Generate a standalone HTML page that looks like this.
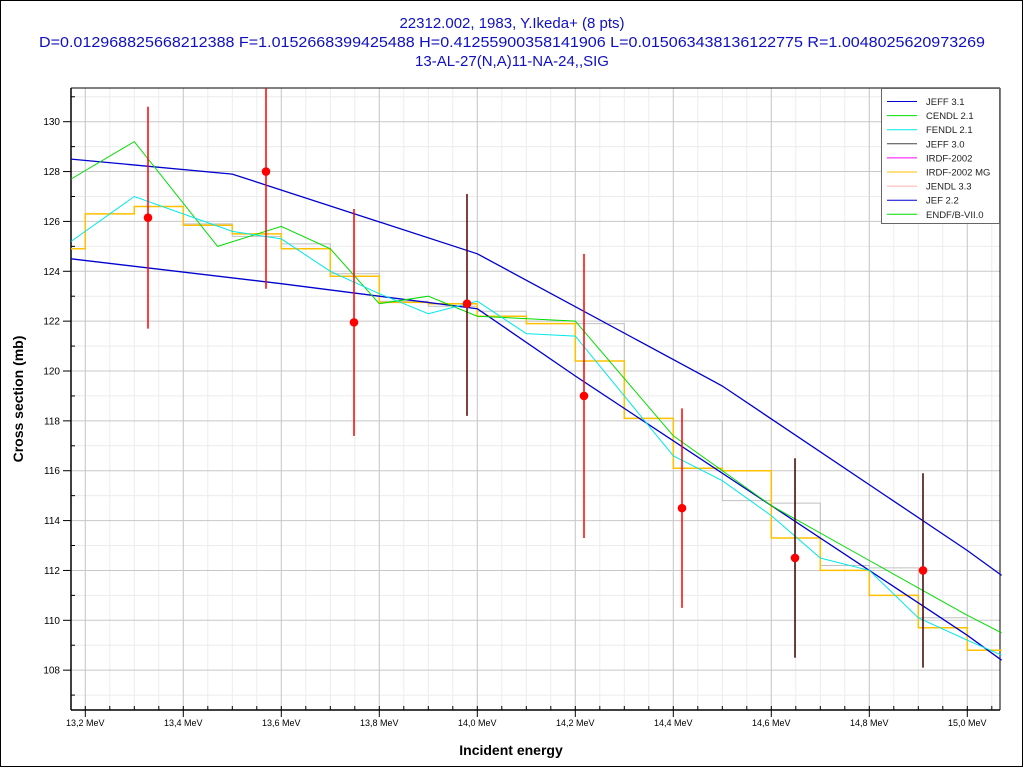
<!DOCTYPE html>
<html><head><meta charset="utf-8"><style>
html,body{margin:0;padding:0;background:#fff}
svg{display:block}
</style></head><body>
<svg id="s" width="1024" height="768" xmlns="http://www.w3.org/2000/svg" font-family="Liberation Sans, Arial, sans-serif">
<rect x="0.5" y="0.5" width="1022" height="766" fill="#fff" stroke="#000"/>
<text x="512" y="28" text-anchor="middle" font-size="15" fill="#1010c0">22312.002, 1983, Y.Ikeda+ (8 pts)</text>
<text x="512" y="47" text-anchor="middle" font-size="15" fill="#1010c0" textLength="946" lengthAdjust="spacingAndGlyphs">D=0.012968825668212388 F=1.0152668399425488 H=0.41255900358141906 L=0.015063438136122775 R=1.0048025620973269</text>
<text x="512" y="66" text-anchor="middle" font-size="15" fill="#1010c0">13-AL-27(N,A)11-NA-24,,SIG</text>
<text x="511" y="755" text-anchor="middle" font-size="14" font-weight="bold">Incident energy</text>
<text transform="translate(23,399) rotate(-90)" text-anchor="middle" font-size="14" font-weight="bold">Cross section (mb)</text>
<g id="g"></g>
</svg>
<script>
var L=71,R=1000,T=88,B=710;
function X(e){return 85.3+(e-13.2)*490}
function Y(v){return 121.7+(130-v)*24.93}
var h='';
for(var e=13.15;e<15.1;e+=0.05){var x=X(e);if(x>L&&x<R)h+='<line x1="'+x+'" y1="'+T+'" x2="'+x+'" y2="'+B+'" stroke="#ececec"/>';}
for(var v=106;v<=131;v++){var y=Y(v);if(y>T&&y<B)h+='<line x1="'+L+'" y1="'+y+'" x2="'+R+'" y2="'+y+'" stroke="'+(v%2==0?'#c8c8c8':'#ececec')+'"/>';}
for(var i=0;i<=9;i++){var x=X(13.2+i*0.2);h+='<line x1="'+x+'" y1="'+T+'" x2="'+x+'" y2="'+B+'" stroke="#c8c8c8"/>';}
h+='<line x1="'+L+'" y1="'+T+'" x2="'+L+'" y2="'+B+'" stroke="#000" stroke-width="1.5"/>';
h+='<line x1="'+L+'" y1="'+B+'" x2="'+R+'" y2="'+B+'" stroke="#000" stroke-width="1.5"/>';
h+='<line x1="'+R+'" y1="'+T+'" x2="'+R+'" y2="'+B+'" stroke="#000"/>';
h+='<line x1="'+L+'" y1="'+T+'" x2="'+R+'" y2="'+T+'" stroke="#000"/>';
for(var v=107;v<=131;v++){var y=Y(v);var big=v%2==0;h+='<line x1="'+(L-(big?8:0))+'" y1="'+y+'" x2="'+(L+(big?0:4))+'" y2="'+y+'" stroke="#000"/>';if(big)h+='<text x="'+(L-11)+'" y="'+(y+3.5)+'" text-anchor="end" font-size="10">'+v+'</text>';}
for(var e=13.2;e<15.08;e+=0.05){var x=X(e);var k=Math.round((e-13.2)/0.05);var big=k%4==0;h+='<line x1="'+x+'" y1="'+(B-4)+'" x2="'+x+'" y2="'+(B+(big?7:0))+'" stroke="#000"/>';if(big)h+='<text x="'+x+'" y="'+(B+16)+'" text-anchor="middle" font-size="9">'+(13.2+k*0.05).toFixed(1).replace('.',',')+' MeV</text>';}
function pl(pts,c,w){var s='';pts.forEach(function(p){s+=X(p[0]).toFixed(1)+','+Y(p[1]).toFixed(1)+' '});h+='<polyline points="'+s+'" fill="none" stroke="'+c+'" stroke-width="'+(w||1)+'"/>';}
function step(st,c,w){var pts=[];var xs=[13.171,13.2,13.3,13.4,13.5,13.6,13.7,13.8,13.9,14.0,14.1,14.2,14.3,14.4,14.5,14.6,14.7,14.8,14.9,15.0,15.07];for(var i=0;i<st.length;i++){pts.push([xs[i],st[i]]);pts.push([xs[i+1],st[i]]);}pl(pts,c,w);}
var E0=13.171,E1=15.07;
step([124.9,126.3,126.6,125.9,125.4,125.1,123.9,122.8,122.6,122.4,122.0,121.9,118.1,118.0,114.8,114.7,112.2,112.1,110.1,108.8],'#c0c0c0');
step([124.9,126.3,126.6,125.85,125.5,124.9,123.8,122.75,122.7,122.2,121.9,120.4,118.1,116.1,116.0,113.3,112.0,111.0,109.7,108.8],'#ffc000',1.5);
pl([[E0,128.5],[13.5,127.9],[14.0,124.7],[14.5,119.4],[15.0,112.8],[E1,111.8]],'#0000d0',1.3);
pl([[E0,124.5],[13.6,123.5],[14.0,122.5],[14.2,119.8],[14.4,117.2],[14.6,114.6],[14.8,112.0],[15.0,109.4],[E1,108.4]],'#0000d0',1.3);
pl([[E0,127.7],[13.3,129.2],[13.47,125.0],[13.6,125.8],[13.7,124.9],[13.8,122.7],[13.9,123.0],[14.0,122.2],[14.2,122.0],[14.4,117.4],[14.6,114.6],[14.8,112.4],[15.0,110.2],[E1,109.5]],'#00dd00');
pl([[E0,125.2],[13.3,127.0],[13.5,125.6],[13.6,125.3],[13.7,124.0],[13.8,123.1],[13.9,122.3],[14.0,122.8],[14.1,121.5],[14.2,121.4],[14.3,119.0],[14.4,116.6],[14.5,115.6],[14.6,114.2],[14.7,112.5],[14.8,112.0],[14.9,110.1],[15.0,109.2],[E1,108.6]],'#00e8e8');
var d=[[148,126.15,121.7,130.6,'#ff0000'],[266,128.0,123.3,131.4,'#ff0000'],[354,121.95,117.4,126.5,'#ff0000'],[467,122.7,118.2,127.1,'#5a0000'],[584,119.0,113.3,124.7,'#ff0000'],[682,114.5,110.5,118.5,'#ff0000'],[795,112.5,108.5,116.5,'#400000'],[923,112.0,108.1,115.9,'#400000']];
d.forEach(function(p){h+='<line x1="'+p[0]+'" y1="'+Math.max(T,Y(p[3]))+'" x2="'+p[0]+'" y2="'+Y(p[2])+'" stroke="'+p[4]+'" stroke-width="1.5"/>';h+='<circle cx="'+p[0]+'" cy="'+Y(p[1])+'" r="4.3" fill="#ff0000"/>';});
h+='<rect x="881.5" y="88.5" width="118" height="135" fill="#fff" stroke="#666"/>';
var lg=[['JEFF 3.1','#0000d0'],['CENDL 2.1','#00dd00'],['FENDL 2.1','#00e8e8'],['JEFF 3.0','#444'],['IRDF-2002','#ff00ff'],['IRDF-2002 MG','#ffc000'],['JENDL 3.3','#ffb0b0'],['JEF 2.2','#0000d0'],['ENDF/B-VII.0','#00dd00']];
lg.forEach(function(l,i){var y=101.5+i*14.1;h+='<line x1="887" y1="'+y+'" x2="917" y2="'+y+'" stroke="'+l[1]+'"/>';h+='<text x="926" y="'+(y+3.5)+'" font-size="9.5" fill="#222">'+l[0]+'</text>';});
document.getElementById('g').innerHTML=h;
</script>
</body></html>
